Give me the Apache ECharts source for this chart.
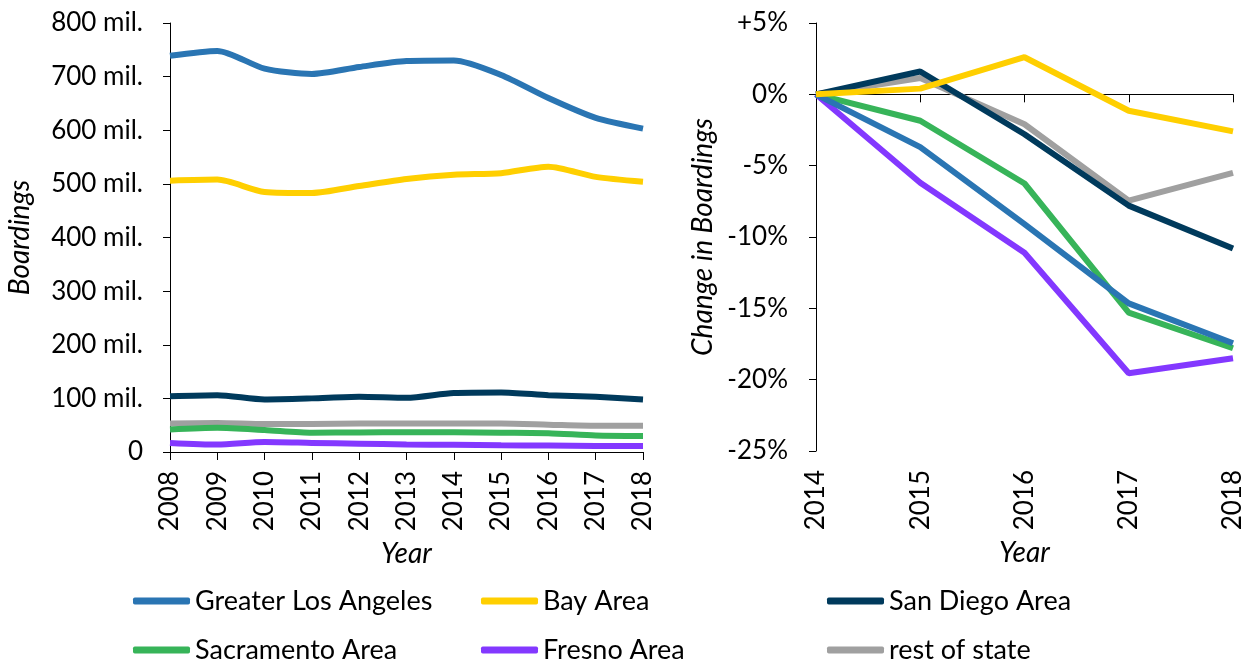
<!DOCTYPE html>
<html><head><meta charset="utf-8">
<script src="https://cdn.jsdelivr.net/npm/echarts@6/dist/echarts.min.js"></script>
<style>html,body{margin:0;padding:0;background:#fff}#c{width:1250px;height:665px}</style>
</head><body><div id="c"></div>
<script>
const yearsLeft = ['2008','2009','2010','2011','2012','2013','2014','2015','2016','2017','2018'];
const yearsRight = ['2014','2015','2016','2017','2018'];
const seriesNames = ['Greater Los Angeles','Bay Area','San Diego Area','Sacramento Area','Fresno Area','rest of state'];
const colors = ['#2a75b3','#ffcf00','#003a5c','#37b459','#8338ff','#a0a0a0'];
// boardings, millions
const laBoard  = [739,748,715,705,718,729,730,703,660,623,603];
const bayBoard = [506,508,485,483,496,509,517,520,532,513,504];
const sdBoard  = [104,106,98,100,103,101,110,111,106,103,98];
const sacBoard = [42,45,41,36,36.5,37,37,36,35,31,30];
const freBoard = [17,14,18.6,17,15.5,14,13.5,12.5,12,11,11];
const restBoard= [53,54,52,52,53,53,53,53,51,49,49];
// change vs 2014, percent
const laChg   = [0,-3.7,-9.1,-14.65,-17.45];
const bayChg  = [0,0.4,2.6,-1.15,-2.6];
const sdChg   = [0,1.6,-2.8,-7.8,-10.8];
const sacChg  = [0,-1.85,-6.25,-15.3,-17.8];
const freChg  = [0,-6.2,-11.1,-19.55,-18.5];
const restChg = [0,1.15,-2.1,-7.45,-5.5];
const leftTicks = {min:0,max:800,interval:100};
const rightTicks = {min:-25,max:5,interval:5};

const boardData = [laBoard,bayBoard,sdBoard,sacBoard,freBoard,restBoard];
const chgData = [laChg,bayChg,sdChg,sacChg,freChg,restChg];
const drawOrder = [5,4,3,2,0,1];
const font = 'Lato';
const axisTxt = {color:'#000',fontSize:26,fontFamily:font};
const nameTxt = {color:'#000',fontSize:28,fontFamily:font,fontStyle:'italic'};

const series = [];
drawOrder.forEach((i,k)=>{
  series.push({name:seriesNames[i],type:'line',xAxisIndex:0,yAxisIndex:0,data:boardData[i],
    symbol:'none',smooth:0.25,lineStyle:{width:6,color:colors[i]},itemStyle:{color:colors[i]},z:2+k});
  const s = {name:seriesNames[i],type:'line',xAxisIndex:1,yAxisIndex:1,data:chgData[i],
    symbol:'none',lineStyle:{width:6,color:colors[i]},itemStyle:{color:colors[i]},z:2+k};
  if(k===0){s.markLine={silent:true,symbol:'none',label:{show:false},
    lineStyle:{type:[4,4],color:'#000',width:1},data:[{yAxis:0}],z:1};}
  series.push(s);
});

const legPos = [[133,586],[481,586],[827,586],[133,635],[481,635],[827,635]];
const legends = seriesNames.map((n,i)=>({data:[n],left:legPos[i][0],top:legPos[i][1],padding:0,
  icon:'roundRect',itemWidth:57,itemHeight:7,itemGap:0,
  textStyle:{color:'#000',fontSize:27,fontFamily:font,lineHeight:30},selectedMode:false}));

const chart = echarts.init(document.getElementById('c'));
chart.setOption({
  animation:false,
  legend:legends,
  grid:[{left:170,right:607,top:23,bottom:213},{left:816,right:17,top:23,bottom:214}],
  xAxis:[
    {type:'category',gridIndex:0,data:yearsLeft,boundaryGap:false,
     axisLine:{lineStyle:{color:'#000',width:1}},axisTick:{length:8,lineStyle:{color:'#000'}},
     axisLabel:Object.assign({rotate:90,margin:19,interval:0},axisTxt),
     name:'Year',nameLocation:'middle',nameGap:88,nameTextStyle:nameTxt},
    {type:'category',gridIndex:1,data:yearsRight,boundaryGap:false,
     axisLine:{lineStyle:{color:'#000',width:1}},axisTick:{length:8,lineStyle:{color:'#000'}},
     axisLabel:Object.assign({rotate:90,margin:19,interval:0},axisTxt),
     name:'Year',nameLocation:'middle',nameGap:88,nameTextStyle:nameTxt}
  ],
  yAxis:[
    {type:'value',gridIndex:0,min:leftTicks.min,max:leftTicks.max,interval:leftTicks.interval,
     axisLine:{show:true,lineStyle:{color:'#000'}},axisTick:{show:true,length:7,lineStyle:{color:'#000'}},
     splitLine:{show:false},
     axisLabel:Object.assign({margin:27,formatter:v=>v===0?'0':v+' mil.'},axisTxt),
     name:'Boardings',nameLocation:'middle',nameGap:136,nameTextStyle:nameTxt},
    {type:'value',gridIndex:1,min:rightTicks.min,max:rightTicks.max,interval:rightTicks.interval,
     axisLine:{show:true,lineStyle:{color:'#000'}},axisTick:{show:true,length:7,lineStyle:{color:'#000'}},
     splitLine:{show:false},
     axisLabel:Object.assign({margin:28,formatter:v=>v>0?'+'+v+'%':v+'%'},axisTxt),
     name:'Change in Boardings',nameLocation:'middle',nameGap:99,nameTextStyle:nameTxt}
  ],
  series:series
});
</script></body></html>
